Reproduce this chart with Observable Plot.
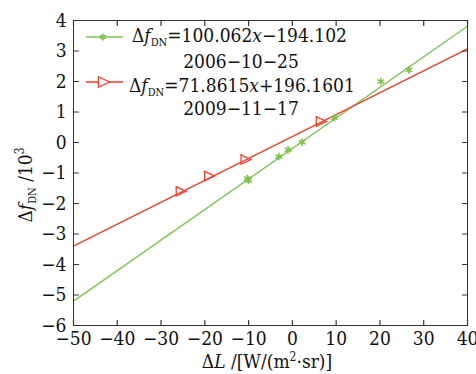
<!DOCTYPE html>
<html><head><meta charset="utf-8">
<script src="https://cdn.jsdelivr.net/npm/d3@7"></script>
<script src="https://cdn.jsdelivr.net/npm/@observablehq/plot@0.6"></script>
<style>body{margin:0;background:#fff} svg text{font-stretch:condensed}</style>
</head><body><div id="chart"></div>
<script>
const xTicks = [-50,-40,-30,-20,-10,0,10,20,30,40];
const yTicks = [-6,-5,-4,-3,-2,-1,0,1,2,3,4];
// series 1 (2006-10-25) measured points
const g_x = [-10.3,-10.0,-3.1,-1.0,2.2,9.6,20.2,26.6];
const g_y = [-1.18,-1.24,-0.46,-0.24,0.01,0.81,2.0,2.38];
// series 2 (2009-11-17)
const r_x = [-25.4,-18.9,-10.6,6.6];
const r_y = [-1.6,-1.1,-0.56,0.69];
// fitted lines (endpoints)
const gl_x = [-50,40], gl_y = [-5.2,3.81];
const rl_x = [-50,40], rl_y = [-3.4,3.07];

const GREEN = "#7cc54f", RED = "#f03e2e", INK = "#333";
const F = "'DejaVu Serif Condensed', 'DejaVu Serif', serif";
const zip = (a,b)=>a.map((v,i)=>({x:v,y:b[i]}));
const tickShape = {draw(ctx,l){ctx.moveTo(0,0);ctx.lineTo(0,-l);}};
const triRight = {draw(ctx,size){const r=Math.sqrt(size)/1.6;ctx.moveTo(r,0);ctx.lineTo(-r,-r*0.95);ctx.lineTo(-r,r*0.95);ctx.closePath();}};

const plot = Plot.plot({
  width:476, height:374,
  marginLeft:73, marginRight:9, marginTop:20, marginBottom:49,
  style:{fontFamily:F, fontSize:"19px", background:"#fff", color:"#111"},
  x:{domain:[-50,40], ticks:xTicks, label:null},
  y:{domain:[-6,4], ticks:yTicks, label:null},
  marks:[
    Plot.line(zip(gl_x,gl_y),{x:"x",y:"y",stroke:GREEN,strokeWidth:1.4}),
    Plot.line(zip(rl_x,rl_y),{x:"x",y:"y",stroke:RED,strokeWidth:1.4}),
    Plot.dot(zip(g_x,g_y),{x:"x",y:"y",symbol:"asterisk",r:3.6,stroke:GREEN,strokeWidth:1.6}),
    Plot.dot(zip(r_x,r_y),{x:"x",y:"y",symbol:triRight,r:4.5,stroke:RED,fill:"none",strokeWidth:1.3}),
    Plot.frame({stroke:INK,strokeWidth:1}),
    Plot.vector(xTicks,{x:d=>d,y:()=>-6,length:5,rotate:0,anchor:"start",shape:tickShape,stroke:INK,strokeWidth:1.2}),
    Plot.vector(xTicks,{x:d=>d,y:()=>4,length:5,rotate:180,anchor:"start",shape:tickShape,stroke:INK,strokeWidth:1.2}),
    Plot.vector(yTicks,{y:d=>d,x:()=>-50,length:5,rotate:90,anchor:"start",shape:tickShape,stroke:INK,strokeWidth:1.2}),
    Plot.vector(yTicks,{y:d=>d,x:()=>40,length:5,rotate:270,anchor:"start",shape:tickShape,stroke:INK,strokeWidth:1.2}),
    Plot.axisX({ticks:xTicks,tickSize:0,tickPadding:6,label:null}),
    Plot.axisY({ticks:yTicks,tickSize:0,tickPadding:7,label:null})
  ]
});
document.getElementById("chart").appendChild(plot);

const svg = d3.select(plot);
function txt(x,y,size,anchor){
  return svg.append("text").attr("x",x).attr("y",y).style("font-family",F).attr("font-size",size)
    .attr("fill","#111").attr("text-anchor",anchor||"start");
}
function dfdn(el, subSize){
  el.append("tspan").text("Δ");
  el.append("tspan").attr("font-style","italic").text("f");
  el.append("tspan").attr("font-size",subSize).attr("dy",4).text("DN");
}
// legend
function legendRow(y, color, sym){
  svg.append("line").attr("x1",86).attr("x2",123).attr("y1",y).attr("y2",y).attr("stroke",color).attr("stroke-width",1.4);
  if(sym==="ast"){
    svg.append("path").attr("d",d3.symbol(d3.symbolAsterisk).size(36)()).attr("transform",`translate(103,${y})`).attr("stroke",color).attr("stroke-width",1.6).attr("fill","none");
  } else {
    svg.append("path").attr("d",d3.symbol(triRight).size(81)()).attr("transform",`translate(104,${y})`).attr("stroke",color).attr("stroke-width",1.3).attr("fill","#fff");
  }
}
legendRow(37, GREEN, "ast");
legendRow(82, RED, "tri");
const e1 = txt(132,42,19);
dfdn(e1,11);
e1.append("tspan").attr("dy",-4).text("=100.062");
e1.append("tspan").attr("font-style","italic").text("x");
e1.append("tspan").text("−194.102");
txt(241,68,19,"middle").text("2006−10−25");
const e2 = txt(129,92,19);
dfdn(e2,11);
e2.append("tspan").attr("dy",-4).text("=71.8615");
e2.append("tspan").attr("font-style","italic").text("x");
e2.append("tspan").text("+196.1601");
txt(241,115,19,"middle").text("2009−11−17");

// axis titles
const xl = txt(267,368,19,"middle");
xl.append("tspan").text("Δ"); xl.append("tspan").attr("font-style","italic").text("L");
xl.append("tspan").text(" /[W/(m");
xl.append("tspan").attr("font-size",12).attr("dy",-7).text("2");
xl.append("tspan").attr("dy",7).text("·sr)]");
const yl = svg.append("text").attr("transform","translate(32,185) rotate(-90)").attr("text-anchor","middle")
  .style("font-family",F).attr("font-size",19).attr("fill","#111");
dfdn(yl,11);
yl.append("tspan").attr("dy",-4).text(" /10");
yl.append("tspan").attr("font-size",12).attr("dy",-8).text("3");
</script></body></html>
